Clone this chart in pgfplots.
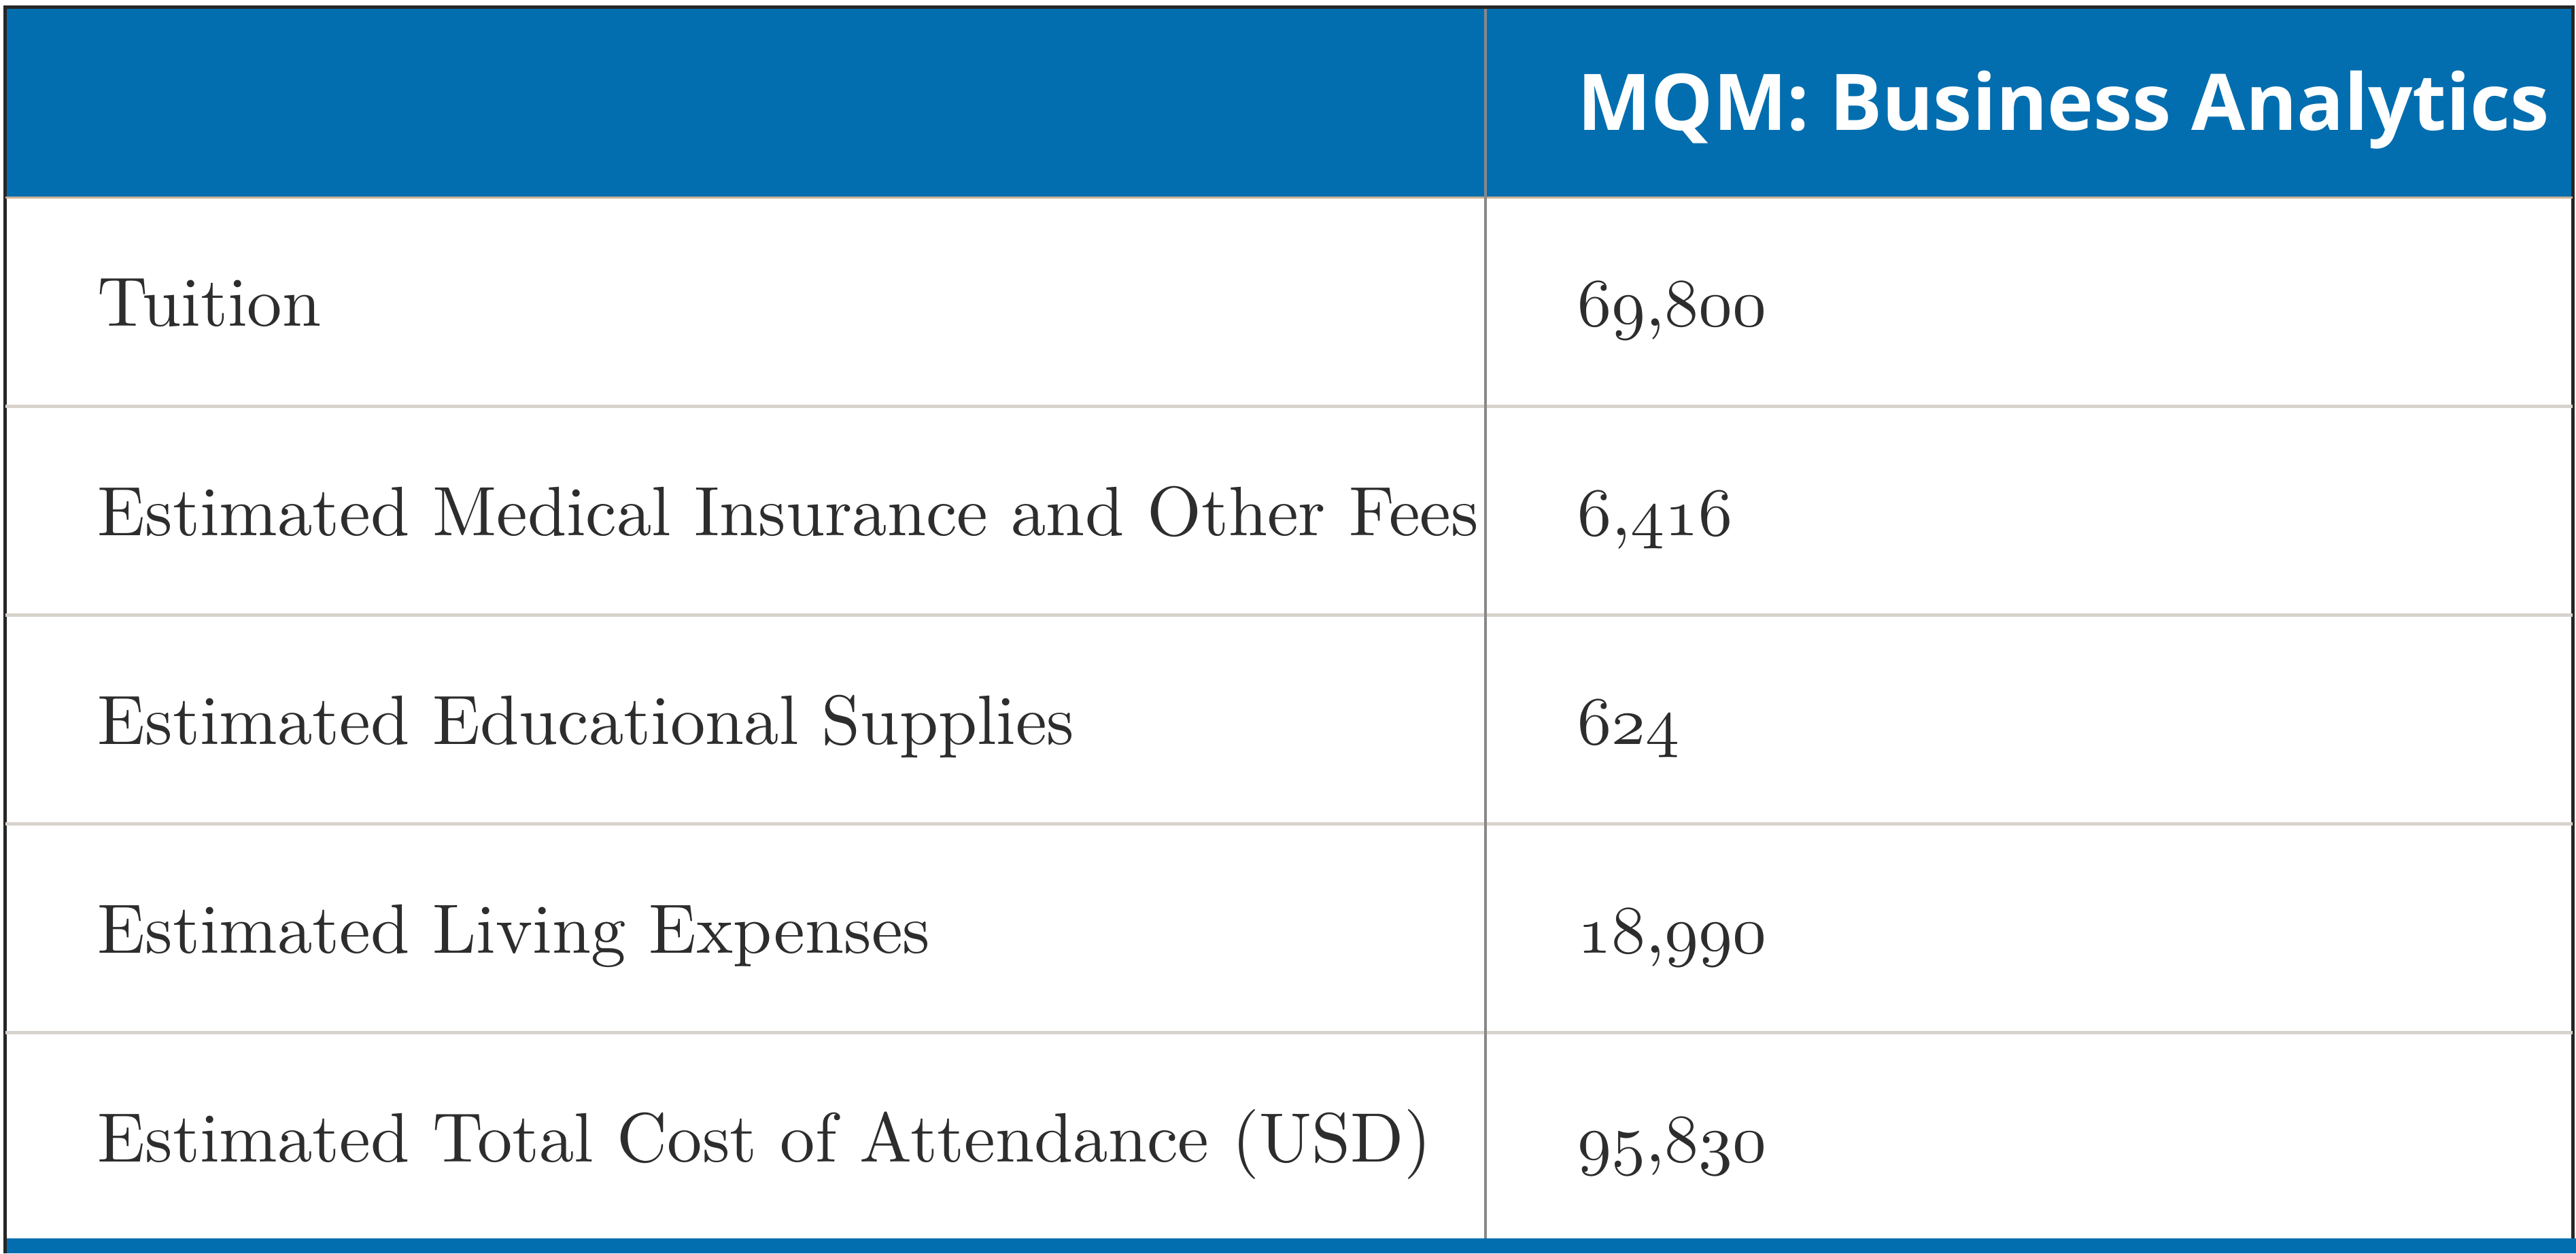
\documentclass[border=0pt]{standalone}
\usepackage{fontspec}
\usepackage{pgfplots}
\pgfplotsset{compat=1.18}
\newfontfamily\headfont{Open Sans}
\definecolor{hdrblue}{RGB}{3,110,175}
\definecolor{rowline}{RGB}{216,210,204}
\definecolor{divgrey}{RGB}{136,136,136}
\definecolor{bodytext}{RGB}{45,45,45}
\newcommand\osf[1]{{\usefont{OML}{cmm}{m}{it}#1}}
\begin{document}
\begin{tikzpicture}
\begin{axis}[
  width=378.9pt, height=184.3pt, scale only axis,
  xmin=0, xmax=3789, ymin=0, ymax=1843, y dir=reverse,
  hide axis, clip=false,
]
% header band
\addplot[fill=hdrblue, draw=none] coordinates {(8,12) (3784,12) (3784,290) (8,290)} -- cycle;
% bottom blue rule
\addplot[fill=hdrblue, draw=none] coordinates {(5,1821) (3789,1821) (3789,1843) (5,1843)} -- cycle;
% outer dark border
\addplot[draw=black!85, line width=0.5pt] coordinates {(7.5,1843) (7.5,11) (3784,11) (3784,1821)};
% header bottom rule
\addplot[draw=rowline!60!brown, line width=0.3pt] coordinates {(8,291) (3784,291)};
% row rules
\addplot[draw=rowline, line width=0.5pt] coordinates {(8,597) (3784,597)};
\addplot[draw=rowline, line width=0.5pt] coordinates {(8,904) (3784,904)};
\addplot[draw=rowline, line width=0.5pt] coordinates {(8,1211) (3784,1211)};
\addplot[draw=rowline, line width=0.5pt] coordinates {(8,1518) (3784,1518)};
% column divider
\addplot[draw=divgrey, line width=0.45pt] coordinates {(2185,13) (2185,1821)};
% header text
\node[anchor=base west, inner sep=0pt, text=white, font=\headfont\bfseries\fontsize{11.5}{14}\selectfont]
  at (axis cs:2318,192) {MQM: Business Analytics};
% body
\tikzset{lbl/.style={anchor=base west, inner sep=0pt, text=bodytext, font=\fontsize{10.27}{12}\selectfont}}
\node[lbl] at (axis cs:142,480) {Tuition};
\node[lbl] at (axis cs:142,787) {Estimated Medical Insurance and Other Fees};
\node[lbl] at (axis cs:142,1094) {Estimated Educational Supplies};
\node[lbl] at (axis cs:142,1401) {Estimated Living Expenses};
\node[lbl] at (axis cs:142,1708) {Estimated Total Cost of Attendance (USD)};
\node[lbl] at (axis cs:2318,480) {\osf{69},\osf{800}};
\node[lbl] at (axis cs:2318,787) {\osf{6},\osf{416}};
\node[lbl] at (axis cs:2318,1094) {\osf{624}};
\node[lbl] at (axis cs:2318,1401) {\osf{18},\osf{990}};
\node[lbl] at (axis cs:2318,1708) {\osf{95},\osf{830}};
\end{axis}
\pgfresetboundingbox
\path[use as bounding box] (current axis.south west) rectangle (current axis.north east);
\end{tikzpicture}
\end{document}
